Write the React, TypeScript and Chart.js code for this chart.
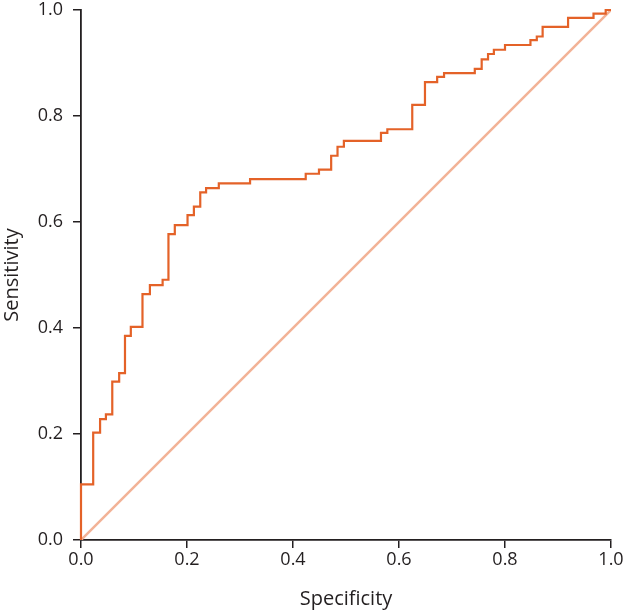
import React, { useEffect, useRef } from "react";
import { Chart, registerables } from "chart.js";

Chart.register(...registerables);

// ROC curve step corners: specificity (x) and sensitivity (y)
const specificity = [
  0, 0, 0.023, 0.036, 0.047, 0.059, 0.072, 0.083, 0.094, 0.116, 0.13, 0.154,
  0.165, 0.177, 0.201, 0.213, 0.225, 0.236, 0.26, 0.319, 0.424, 0.449, 0.472,
  0.484, 0.496, 0.566, 0.578, 0.625, 0.649, 0.672, 0.685, 0.743, 0.756, 0.768,
  0.779, 0.8, 0.848, 0.86, 0.871, 0.919, 0.967, 0.99, 1.0,
];
const sensitivity = [
  0, 0.105, 0.2025, 0.228, 0.237, 0.299, 0.315, 0.385, 0.402, 0.464, 0.481,
  0.491, 0.577, 0.594, 0.613, 0.629, 0.656, 0.664, 0.673, 0.681, 0.691, 0.699,
  0.725, 0.742, 0.753, 0.768, 0.775, 0.821, 0.864, 0.874, 0.881, 0.889, 0.907,
  0.917, 0.925, 0.934, 0.943, 0.95, 0.968, 0.985, 0.993, 1.0, 1.0,
];
const refX = [0, 1];
const refY = [0, 1];
const tickValues = [0, 0.2, 0.4, 0.6, 0.8, 1.0];

export default function App() {
  const ref = useRef<HTMLCanvasElement | null>(null);
  useEffect(() => {
    if (!ref.current) return;
    const family = "'Open Sans', 'Noto Sans', sans-serif";
    const tickFont = { family, size: 18 };
    const titleFont = { family, size: 20 };
    const axisColor = "#231f20";
    const chart = new Chart(ref.current, {
      type: "line",
      data: {
        datasets: [
          {
            label: "Reference",
            data: refX.map((x, i) => ({ x, y: refY[i] })),
            borderColor: "rgba(242, 178, 150, 1)",
            borderWidth: 2.5,
            pointRadius: 0,
            fill: false,
            order: 2,
          },
          {
            label: "ROC",
            data: specificity.map((x, i) => ({ x, y: sensitivity[i] })),
            borderColor: "rgb(228, 98, 40)",
            borderWidth: 2.2,
            pointRadius: 0,
            stepped: "before",
            fill: false,
            order: 1,
            clip: 6,
          },
        ],
      },
      options: {
        animation: false,
        responsive: false,
        maintainAspectRatio: false,
        layout: { padding: { left: 0, top: 10, right: 17, bottom: 0 } },
        plugins: { legend: { display: false }, tooltip: { enabled: false } },
        scales: {
          x: {
            type: "linear",
            min: 0,
            max: 1,
            afterBuildTicks: (s: any) => {
              s.ticks = tickValues.map((v) => ({ value: v }));
            },
            afterFit: (s: any) => {
              s.height = 71;
              s.paddingLeft = 0;
              s.paddingRight = 0;
            },
            ticks: {
              callback: (v: any) => Number(v).toFixed(1),
              color: "#231f20",
              font: tickFont,
              padding: 1,
              maxRotation: 0,
            },
            grid: {
              drawOnChartArea: false,
              drawTicks: true,
              tickLength: 8,
              color: axisColor,
              lineWidth: 1.5,
            },
            border: { display: true, color: axisColor, width: 1.8 },
            title: {
              display: true,
              text: "Specificity",
              color: "#231f20",
              font: titleFont,
              padding: { top: 0, bottom: 0 },
            },
          },
          y: {
            type: "linear",
            min: 0,
            max: 1,
            afterBuildTicks: (s: any) => {
              s.ticks = tickValues.map((v) => ({ value: v }));
            },
            afterFit: (s: any) => {
              s.width = 81;
              s.paddingTop = 0;
              s.paddingBottom = 0;
            },
            ticks: {
              callback: (v: any) => Number(v).toFixed(1),
              color: "#231f20",
              font: tickFont,
              padding: 10,
            },
            grid: {
              drawOnChartArea: false,
              drawTicks: true,
              tickLength: 8,
              color: axisColor,
              lineWidth: 1.5,
            },
            border: { display: true, color: axisColor, width: 1.8 },
            title: {
              display: true,
              text: "Sensitivity",
              color: "#231f20",
              font: titleFont,
              padding: { top: 0, bottom: 0 },
            },
          },
        },
      },
    });
    return () => chart.destroy();
  }, []);
  return (
    <div style={{ position: "fixed", left: 0, top: 0, width: 628, height: 611, background: "#fff" }}>
      <canvas ref={ref} width={628} height={611} style={{ width: 628, height: 611 }} />
    </div>
  );
}
